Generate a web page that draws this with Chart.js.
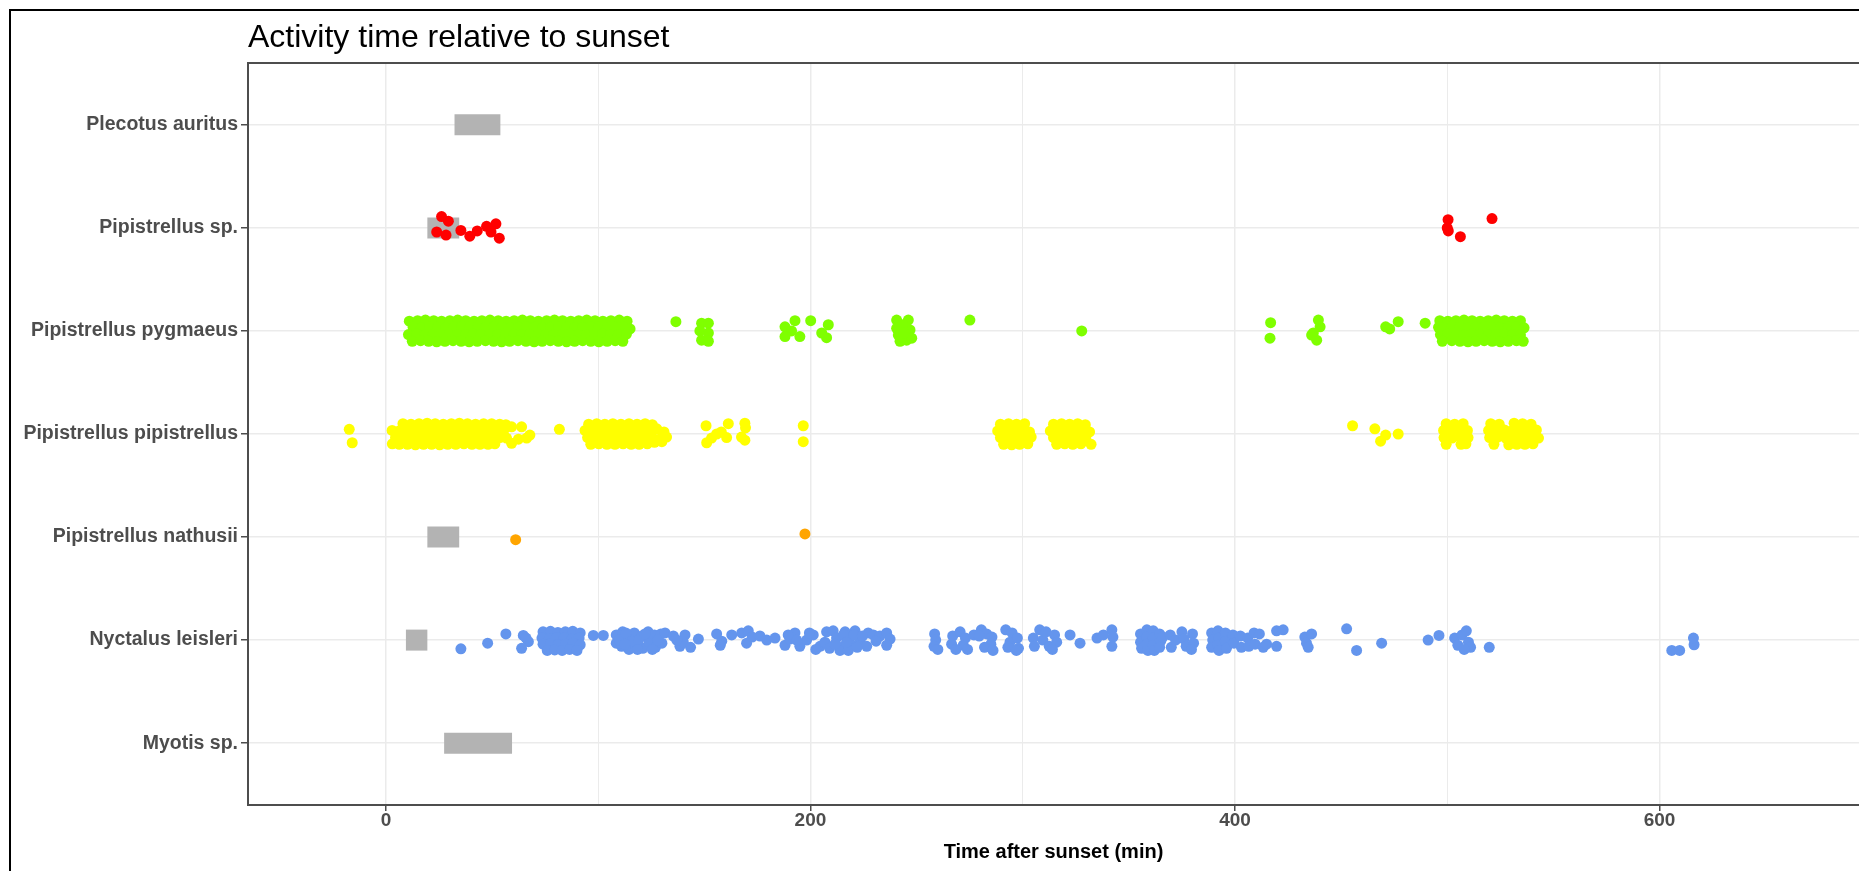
<!DOCTYPE html>
<html>
<head>
<meta charset="utf-8">
<script src="https://cdn.jsdelivr.net/npm/chart.js@4.4.1/dist/chart.umd.min.js"></script>
<style>
  html, body { margin: 0; padding: 0; background: #fff; overflow: hidden; }
  canvas { display: block; }
</style>
</head>
<body>
<canvas id="activityChart" width="1859" height="871" style="width:1859px;height:871px"></canvas>
<script>
// species, bottom to top (y position = index + 1)
const species = ['Myotis sp.', 'Nyctalus leisleri', 'Pipistrellus nathusii', 'Pipistrellus pipistrellus',
    'Pipistrellus pygmaeus', 'Pipistrellus sp.', 'Plecotus auritus'];
const speciesColors = [null, '#6495ED', '#FFA500', '#FFFF00', '#7FFF00', '#FF0000', null];

// grey boxes (minutes after sunset)
const boxStart = [27.4, 9.4, 19.5, null, null, 19.5, 32.3];
const boxEnd = [59.4, 19.5, 34.5, null, null, 34.5, 53.9];

const xTickValues = [0, 100, 200, 300, 400, 500, 600];

// [minutes after sunset, vertical jitter]
const nyctalusPoints = [
    [35.3, -0.085], [47.9, -0.03], [56.5, 0.06], [64.7, 0.045], [67.1, -0.015], [63.9, -0.08], [66.0, 0.02],
    [74.0, 0.08], [77.5, 0.085], [81.0, 0.075], [84.5, 0.08], [88.0, 0.085], [91.5, 0.07],
    [73.5, 0.02], [77.0, 0.015], [80.5, 0.025], [84.0, 0.02], [87.5, 0.01], [91.0, 0.02],
    [74.0, -0.04], [77.5, -0.035], [81.0, -0.045], [84.5, -0.04], [88.0, -0.03], [91.5, -0.045],
    [76.0, -0.1], [79.5, -0.095], [83.0, -0.1], [86.5, -0.09], [90.0, -0.1],
    [97.7, 0.045], [102.4, 0.045],
    [108.5, 0.05], [108.5, -0.03], [111.5, 0.08], [111.0, -0.06], [114.0, 0.02], [114.5, -0.09], [117.0, 0.07],
    [117.5, -0.05], [120.5, 0.04], [121.0, -0.08], [123.5, 0.08], [124.0, -0.02], [126.5, 0.05], [127.0, -0.07],
    [129.5, 0.06], [130.0, -0.03], [110.0, 0.0], [113.0, 0.07], [116.0, -0.01], [119.0, 0.0], [122.0, 0.06],
    [125.5, -0.09], [112.5, -0.04], [118.5, -0.09], [128.0, 0.0], [131.5, 0.07],
    [135.4, 0.04], [138.5, -0.06], [140.9, 0.05], [140.1, -0.02], [147.2, 0.01], [137.0, 0.0], [143.5, -0.07],
    [155.8, 0.06], [158.2, -0.01], [157.5, -0.05], [162.9, 0.05], [167.6, 0.07], [170.7, 0.09], [169.9, -0.03],
    [172.5, 0.03], [176.2, 0.04], [179.4, 0.0], [183.3, 0.02],
    [188.0, -0.05], [190.3, 0.01], [192.7, 0.07], [195.0, -0.06], [198.2, 0.0], [201.3, 0.05], [204.5, -0.06],
    [207.6, 0.08], [206.8, -0.02], [210.7, 0.09], [212.3, 0.02], [214.7, -0.07], [216.3, 0.08], [218.6, 0.02],
    [219.4, -0.05], [221.0, 0.09], [223.3, 0.0], [213.9, -0.1], [217.8, -0.1], [227.2, 0.07], [229.6, 0.05],
    [226.5, -0.06], [232.7, 0.04], [235.9, 0.07], [237.5, 0.01], [235.9, -0.05], [230.9, -0.01],
    [209.0, -0.08], [211.5, -0.04], [215.5, 0.05], [217.0, -0.02], [220.5, 0.05], [222.0, -0.07], [224.5, 0.04],
    [202.5, -0.09], [199.5, 0.07], [193.5, 0.0], [189.5, 0.05],
    [258.5, 0.06], [259.0, 0.0], [258.2, -0.06], [260.0, -0.09],
    [267.0, 0.04], [266.5, -0.04], [270.5, 0.08], [272.0, -0.05], [274.0, -0.09], [268.5, -0.09], [273.0, 0.02],
    [277.0, 0.05], [280.5, 0.1], [283.0, 0.06], [285.5, 0.03], [285.0, -0.04], [282.0, -0.07], [279.5, 0.04], [286.0, -0.1],
    [292.0, 0.1], [295.0, 0.07], [294.0, -0.02], [293.0, -0.07], [297.5, 0.02], [298.0, -0.08], [297.0, -0.1],
    [305.0, 0.02], [305.5, -0.06], [308.0, 0.1], [309.5, 0.0], [311.0, 0.08], [312.5, -0.06], [315.0, 0.05],
    [316.0, -0.02], [314.0, -0.09],
    [322.3, 0.05], [327.0, -0.03],
    [335.0, 0.02], [338.0, 0.05], [342.0, 0.1], [342.5, 0.03], [342.0, -0.06],
    [355.5, 0.06], [355.5, -0.02], [356.0, -0.08], [358.5, 0.1], [358.5, 0.03], [358.5, -0.04], [359.0, -0.1],
    [361.5, 0.09], [361.5, 0.02], [361.5, -0.05], [362.0, -0.1], [364.5, 0.06], [365.0, -0.01], [364.5, -0.07],
    [366.0, 0.03],
    [369.5, 0.05], [370.0, -0.07], [372.0, 0.0], [375.0, 0.08], [376.0, 0.01], [377.0, -0.06], [380.0, 0.06],
    [380.5, -0.03], [379.5, -0.09],
    [389.0, 0.07], [389.5, 0.0], [389.0, -0.07], [392.0, 0.09], [392.5, 0.02], [392.0, -0.05], [392.5, -0.1],
    [395.5, 0.07], [395.5, -0.01], [396.0, -0.08], [399.0, 0.05], [399.5, -0.03], [402.5, 0.04], [403.0, -0.07],
    [406.0, 0.02], [406.5, -0.06], [409.0, 0.07], [409.5, -0.04], [411.5, 0.06],
    [413.3, -0.07], [414.9, -0.04], [419.6, -0.06], [419.6, 0.09], [422.7, 0.1],
    [432.9, 0.03], [433.7, -0.03], [436.1, 0.06], [434.5, -0.07],
    [452.6, 0.11], [457.3, -0.1], [469.1, -0.03],
    [491.0, 0.0], [496.1, 0.045], [503.5, 0.02], [505.0, -0.05], [507.0, 0.05], [509.0, 0.09], [510.0, -0.02],
    [511.0, -0.07], [508.0, -0.09], [519.8, -0.07],
    [605.8, -0.1], [609.5, -0.1], [616.3, -0.045], [616.0, 0.02]
];

const nathusiiPoints = [[61.1, -0.025], [197.4, 0.03]];

const pipistrellusPoints = [
    [-17.3, 0.045], [-15.9, -0.085],
    [8.0, 0.1], [11.8, 0.095], [15.6, 0.1], [19.4, 0.105], [23.2, 0.1], [27.0, 0.095], [30.8, 0.1], [34.6, 0.105],
    [38.4, 0.1], [42.2, 0.095], [46.0, 0.1], [49.8, 0.1], [53.6, 0.095],
    [2.9, 0.035], [6.2, 0.03], [10.0, 0.04], [13.8, 0.035], [17.6, 0.03], [21.4, 0.035], [25.2, 0.04], [29.0, 0.035],
    [32.8, 0.03], [36.6, 0.035], [40.4, 0.04], [44.2, 0.035], [48.0, 0.03], [51.8, 0.035], [55.6, 0.04],
    [4.5, -0.035], [8.1, -0.03], [11.9, -0.04], [15.7, -0.035], [19.5, -0.03], [23.3, -0.035], [27.1, -0.04],
    [30.9, -0.035], [34.7, -0.03], [38.5, -0.035], [42.3, -0.04], [46.1, -0.035], [49.9, -0.03], [53.7, -0.035], [56.8, -0.04],
    [3.0, -0.095], [6.3, -0.1], [10.1, -0.1], [13.9, -0.105], [17.7, -0.1], [21.5, -0.1], [25.3, -0.105], [29.1, -0.1],
    [32.9, -0.1], [36.7, -0.095], [40.5, -0.1], [44.3, -0.1], [48.1, -0.1], [51.3, -0.095],
    [56.5, 0.09], [59.2, 0.07], [63.9, 0.07], [66.3, -0.04], [67.8, -0.01], [59.2, -0.09], [62.4, -0.05],
    [81.7, 0.045],
    [95.5, 0.095], [99.3, 0.1], [103.1, 0.095], [106.9, 0.1], [110.7, 0.095], [114.5, 0.1], [118.3, 0.095],
    [122.1, 0.1], [125.5, 0.09],
    [93.8, 0.035], [97.2, 0.03], [101.0, 0.035], [104.8, 0.04], [108.6, 0.035], [112.4, 0.03], [116.2, 0.035],
    [120.0, 0.04], [123.8, 0.035], [127.6, 0.05], [131.0, 0.02],
    [95.0, -0.035], [98.8, -0.03], [102.6, -0.04], [106.4, -0.035], [110.2, -0.03], [114.0, -0.035], [117.8, -0.04],
    [121.6, -0.035], [125.4, -0.03], [129.2, -0.045], [132.2, -0.03],
    [96.5, -0.1], [100.3, -0.095], [104.1, -0.1], [107.9, -0.1], [111.7, -0.095], [115.5, -0.1], [119.3, -0.1],
    [123.1, -0.095], [126.5, -0.08], [130.0, -0.075],
    [150.8, 0.08], [151.1, -0.085], [155.8, 0.0], [153.4, -0.04], [161.3, 0.1], [160.5, -0.035], [158.0, 0.02],
    [169.1, 0.105], [169.4, 0.06], [169.1, -0.06], [167.5, -0.03], [196.6, 0.08], [196.6, -0.075],
    [289.5, 0.095], [293.3, 0.1], [297.1, 0.095], [300.9, 0.1],
    [288.2, 0.03], [292.0, 0.035], [295.8, 0.03], [299.6, 0.035], [303.2, 0.02],
    [289.5, -0.035], [293.3, -0.03], [297.1, -0.04], [300.9, -0.035], [304.0, -0.03],
    [291.0, -0.1], [294.8, -0.105], [298.6, -0.1], [302.4, -0.095],
    [314.5, 0.095], [318.3, 0.1], [322.1, 0.095], [325.9, 0.1], [329.5, 0.09],
    [313.0, 0.03], [316.8, 0.035], [320.6, 0.03], [324.4, 0.035], [328.2, 0.03], [331.5, 0.02],
    [314.5, -0.035], [318.3, -0.04], [322.1, -0.03], [325.9, -0.035], [329.7, -0.04],
    [316.0, -0.1], [319.8, -0.095], [323.6, -0.1], [327.4, -0.095], [332.2, -0.1],
    [455.4, 0.08], [465.9, 0.05], [471.0, -0.01], [468.6, -0.07], [476.9, 0.0],
    [499.5, 0.1], [503.5, 0.095], [507.5, 0.1],
    [498.3, 0.035], [502.0, 0.03], [505.8, 0.04], [509.5, 0.035],
    [498.5, -0.035], [502.3, -0.04], [506.1, -0.03], [509.8, -0.035],
    [499.5, -0.1], [506.5, -0.1], [508.8, -0.095],
    [520.5, 0.1], [524.5, 0.095], [531.5, 0.105], [535.5, 0.1], [539.5, 0.095],
    [519.5, 0.035], [523.3, 0.03], [527.0, 0.04], [530.7, 0.035], [534.5, 0.03], [538.3, 0.035], [542.0, 0.04],
    [520.0, -0.035], [523.8, -0.03], [527.6, -0.04], [531.4, -0.035], [535.2, -0.03], [539.0, -0.035], [543.0, -0.04],
    [522.0, -0.1], [529.0, -0.105], [532.8, -0.1], [536.6, -0.1], [540.4, -0.095]
];

const pygmaeusPoints = [
    [11.0, 0.095], [14.9, 0.1], [18.6, 0.105], [22.5, 0.1], [26.2, 0.095], [30.1, 0.1], [33.8, 0.105], [37.6, 0.1],
    [41.5, 0.095], [45.2, 0.1], [49.0, 0.105], [52.9, 0.1], [56.6, 0.095], [60.4, 0.1], [64.3, 0.105], [68.0, 0.1],
    [71.8, 0.095], [75.7, 0.1], [79.4, 0.105], [83.2, 0.1], [87.1, 0.095], [90.8, 0.1], [94.6, 0.105], [98.5, 0.1],
    [102.2, 0.095], [106.0, 0.1], [109.9, 0.105], [113.6, 0.095],
    [12.8, 0.035], [16.7, 0.03], [20.5, 0.04], [24.3, 0.035], [28.1, 0.03], [32.0, 0.035], [35.7, 0.04], [39.6, 0.035],
    [43.3, 0.03], [47.1, 0.035], [51.0, 0.04], [54.7, 0.035], [58.5, 0.03], [62.4, 0.035], [66.1, 0.04], [69.9, 0.035],
    [73.8, 0.03], [77.5, 0.035], [81.3, 0.04], [85.2, 0.035], [88.9, 0.03], [92.7, 0.035], [96.6, 0.04], [100.3, 0.035],
    [104.1, 0.03], [108.0, 0.035], [111.7, 0.04], [115.0, 0.02],
    [10.6, -0.035], [14.5, -0.03], [18.3, -0.04], [22.1, -0.035], [25.9, -0.03], [29.8, -0.035], [33.5, -0.04],
    [37.4, -0.035], [41.1, -0.03], [44.9, -0.035], [48.8, -0.04], [52.5, -0.035], [56.3, -0.03], [60.2, -0.035],
    [63.9, -0.04], [67.7, -0.035], [71.6, -0.03], [75.3, -0.035], [79.1, -0.04], [83.0, -0.035], [86.7, -0.03],
    [90.5, -0.035], [94.4, -0.04], [98.1, -0.035], [101.9, -0.03], [105.8, -0.035], [109.5, -0.04], [113.3, -0.03],
    [12.4, -0.1], [16.3, -0.095], [20.1, -0.1], [23.9, -0.105], [27.8, -0.1], [31.6, -0.095], [35.4, -0.1],
    [39.2, -0.105], [43.0, -0.1], [46.9, -0.095], [50.7, -0.1], [54.5, -0.105], [58.3, -0.1], [62.2, -0.095],
    [66.0, -0.1], [69.8, -0.105], [73.6, -0.1], [77.4, -0.095], [81.2, -0.1], [85.1, -0.105], [88.9, -0.1],
    [92.7, -0.095], [96.5, -0.1], [100.3, -0.105], [104.2, -0.1], [108.0, -0.095], [111.6, -0.1],
    [136.6, 0.09],
    [148.7, 0.075], [151.9, 0.075], [147.9, 0.0], [151.9, -0.02], [148.7, -0.09], [151.9, -0.1],
    [188.0, 0.04], [192.7, 0.1], [191.1, 0.0], [188.0, -0.055], [195.0, -0.055], [200.1, 0.1], [208.4, 0.06],
    [205.3, -0.02], [207.6, -0.065],
    [240.6, 0.105], [246.1, 0.105], [240.6, 0.025], [246.9, 0.01], [241.4, -0.04], [245.3, -0.09], [242.2, -0.1],
    [247.7, -0.07], [243.5, 0.06], [244.0, -0.02],
    [275.1, 0.105], [327.8, 0.0],
    [416.8, 0.08], [416.5, -0.07],
    [439.3, 0.105], [440.1, 0.04], [436.9, -0.02], [438.5, -0.09], [436.1, -0.04],
    [471.0, 0.04], [472.9, 0.02], [476.9, 0.09], [489.6, 0.075],
    [496.5, 0.1], [500.3, 0.095], [504.1, 0.1], [507.9, 0.105], [511.7, 0.1], [515.5, 0.095], [519.3, 0.1],
    [523.1, 0.105], [526.9, 0.1], [530.7, 0.095], [534.5, 0.1],
    [495.9, 0.035], [498.4, 0.03], [502.2, 0.04], [506.0, 0.035], [509.8, 0.03], [513.6, 0.035], [517.4, 0.04],
    [521.2, 0.035], [525.0, 0.03], [528.8, 0.035], [532.6, 0.04], [536.2, 0.03],
    [496.8, -0.035], [500.3, -0.03], [504.1, -0.04], [507.9, -0.035], [511.7, -0.03], [515.5, -0.035],
    [519.3, -0.04], [523.1, -0.035], [526.9, -0.03], [530.7, -0.035], [534.5, -0.04],
    [497.7, -0.1], [502.2, -0.095], [506.0, -0.1], [509.8, -0.105], [513.6, -0.1], [517.4, -0.095],
    [521.2, -0.1], [525.0, -0.105], [528.8, -0.1], [532.6, -0.095], [535.8, -0.1]
];

const pipSpPoints = [
    [26.2, 0.11], [29.4, 0.065], [23.9, -0.04], [28.3, -0.07], [35.3, -0.025], [39.5, -0.08], [43.0, -0.03],
    [47.4, 0.015], [51.8, 0.04], [49.5, -0.04], [53.4, -0.1],
    [500.4, 0.08], [500.0, 0.0], [500.5, -0.03], [506.2, -0.085], [521.1, 0.09]
];

const pointsBySpecies = [[], nyctalusPoints, nathusiiPoints, pipistrellusPoints, pygmaeusPoints, pipSpPoints, []];

const datasets = [];
species.forEach(function (name, i) {
    if (pointsBySpecies[i].length) {
        datasets.push({
            label: name,
            data: pointsBySpecies[i].map(p => ({ x: p[0], y: i + 1 + p[1] })),
            backgroundColor: speciesColors[i],
            pointRadius: 5.5,
            borderWidth: 0,
            order: 0
        });
    }
    if (boxStart[i] !== null) {
        datasets.push({
            label: name + ' box',
            data: [{ x: boxStart[i], y: i + 1 }, { x: boxEnd[i], y: i + 1 }],
            showLine: true,
            borderColor: '#B3B3B3',
            borderWidth: 21,
            borderCapStyle: 'butt',
            pointRadius: 0,
            order: 1
        });
    }
});

const frame = {
    id: 'frame',
    beforeDraw(chart) {
        const ctx = chart.ctx;
        ctx.save();
        ctx.fillStyle = '#fff';
        ctx.fillRect(0, 0, chart.width, chart.height);
        ctx.strokeStyle = '#000';
        ctx.lineWidth = 2;
        ctx.beginPath();
        ctx.moveTo(10, chart.height);
        ctx.lineTo(10, 10);
        ctx.lineTo(chart.width, 10);
        ctx.stroke();
        ctx.fillStyle = '#000';
        ctx.font = '32px "Liberation Sans", Arial, sans-serif';
        ctx.textBaseline = 'alphabetic';
        ctx.fillText('Activity time relative to sunset', chart.chartArea.left, 47);
        ctx.restore();
    },
    afterDraw(chart) {
        const ctx = chart.ctx;
        const a = chart.chartArea;
        ctx.save();
        ctx.strokeStyle = '#4D4D4D';
        ctx.lineWidth = 2;
        ctx.beginPath();
        ctx.moveTo(a.left, a.top);
        ctx.lineTo(a.right, a.top);
        ctx.stroke();
        ctx.restore();
    }
};

Chart.defaults.font.family = '"Liberation Sans", Arial, sans-serif';

new Chart(document.getElementById('activityChart'), {
    type: 'scatter',
    data: { datasets: datasets },
    plugins: [frame],
    options: {
        responsive: false,
        animation: false,
        devicePixelRatio: 1,
        events: [],
        layout: { autoPadding: false, padding: { top: 63, left: 0, right: 0, bottom: 0 } },
        plugins: { legend: { display: false }, tooltip: { enabled: false } },
        scales: {
            x: {
                type: 'linear',
                min: -65,
                max: 694,
                afterFit: s => { s.height = 66; },
                afterBuildTicks: s => { s.ticks = xTickValues.map(v => ({ value: v })); },
                grid: {
                    color: '#EBEBEB',
                    lineWidth: c => (c.tick && c.tick.value % 200 === 0 ? 1.5 : 1),
                    tickColor: c => (c.tick && c.tick.value % 200 === 0 ? '#4D4D4D' : 'rgba(0,0,0,0)'),
                    tickLength: 6,
                    tickWidth: 1.5
                },
                border: { color: '#4D4D4D', width: 2 },
                ticks: {
                    padding: -2,
                    color: '#4D4D4D',
                    font: { size: 19, weight: 'bold' },
                    maxRotation: 0,
                    callback: v => (v % 200 === 0 ? String(v) : '')
                },
                title: {
                    display: true,
                    text: 'Time after sunset (min)',
                    color: '#000',
                    font: { size: 20, weight: 'bold' },
                    padding: { top: 0, bottom: 7 }
                }
            },
            y: {
                type: 'linear',
                min: 0.4,
                max: 7.6,
                afterFit: s => { s.width = 248; },
                afterBuildTicks: s => { s.ticks = species.map((_, i) => ({ value: i + 1 })); },
                grid: {
                    color: '#EBEBEB',
                    lineWidth: 1.5,
                    tickColor: '#4D4D4D',
                    tickLength: 7,
                    tickWidth: 1.5
                },
                border: { color: '#4D4D4D', width: 2 },
                ticks: {
                    padding: 3,
                    color: '#4D4D4D',
                    font: { size: 19.5, weight: 'bold' },
                    callback: v => species[v - 1]
                }
            }
        }
    }
});
</script>
</body>
</html>
